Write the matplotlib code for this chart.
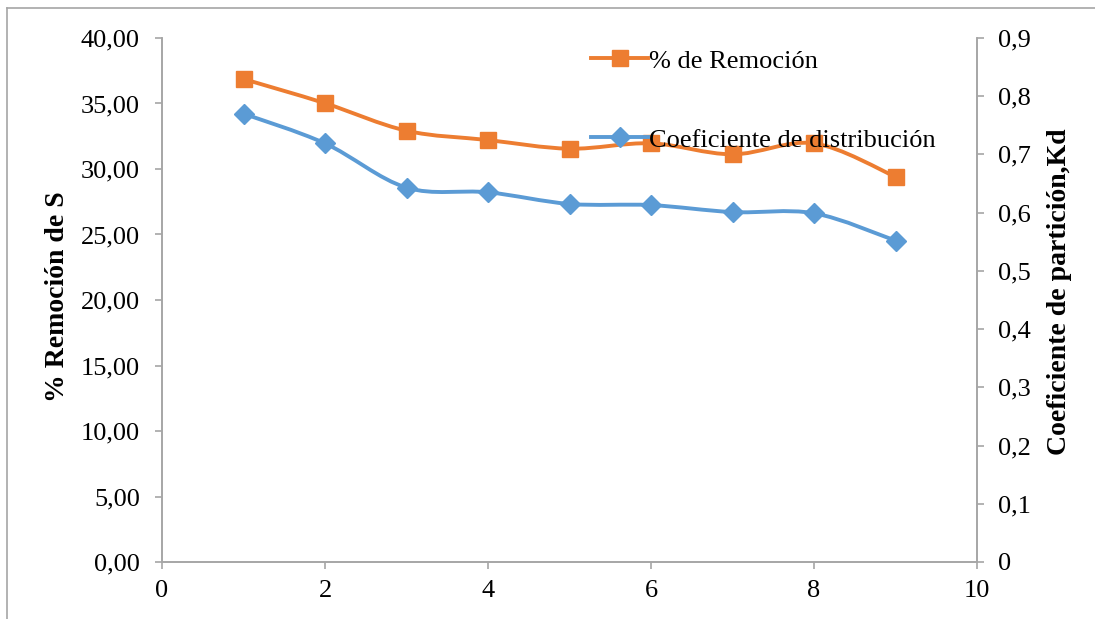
import matplotlib
matplotlib.use('Agg')
import matplotlib.pyplot as plt
from matplotlib.path import Path
from matplotlib.patches import PathPatch
from matplotlib.lines import Line2D
from matplotlib.ticker import FuncFormatter, MultipleLocator

plt.rcParams['font.family'] = ['Liberation Serif', 'DejaVu Serif']

ensayo = [1, 2, 3, 4, 5, 6, 7, 8, 9]
remocion = [36.87, 35.02, 32.92, 32.21, 31.55, 31.96, 31.12, 31.96, 29.41]
kd = [0.770, 0.719, 0.643, 0.635, 0.615, 0.613, 0.601, 0.599, 0.552]

naranja = '#ED7D31'
azul = '#5B9BD5'
gris = '#A6A6A6'


def curva_suave(xs, ys):
    # bezier por tramos al estilo de las lineas suavizadas de Excel
    pts = list(zip(xs, ys))
    n = len(pts)
    verts = [pts[0]]
    codes = [Path.MOVETO]
    for i in range(n - 1):
        p0 = pts[i - 1] if i > 0 else pts[i]
        p1 = pts[i]
        p2 = pts[i + 1]
        p3 = pts[i + 2] if i + 2 < n else pts[i + 1]
        c1 = (p1[0] + (p2[0] - p0[0]) / 6, p1[1] + (p2[1] - p0[1]) / 6)
        c2 = (p2[0] - (p3[0] - p1[0]) / 6, p2[1] - (p3[1] - p1[1]) / 6)
        verts += [c1, c2, p2]
        codes += [Path.CURVE4] * 3
    return Path(verts, codes)


fig = plt.figure(figsize=(10.95, 6.19), dpi=100)
ax = fig.add_axes([162 / 1095, 57 / 619, 815 / 1095, 524 / 619])
ax2 = ax.twinx()

ax.add_patch(PathPatch(curva_suave(ensayo, remocion), fill=False,
                       edgecolor=naranja, lw=2.8, zorder=3))
ax.plot(ensayo, remocion, ls='none', marker='s', ms=11.5, color=naranja, zorder=4)
ax2.add_patch(PathPatch(curva_suave(ensayo, kd), fill=False,
                        edgecolor=azul, lw=2.8, zorder=3))
ax2.plot(ensayo, kd, ls='none', marker='D', ms=10, color=azul, zorder=4)

ax.set_xlim(0, 10)
ax.set_ylim(0, 40)
ax2.set_ylim(0, 0.9)
ax.xaxis.set_major_locator(MultipleLocator(2))
ax.yaxis.set_major_locator(MultipleLocator(5))
ax2.yaxis.set_major_locator(MultipleLocator(0.1))
ax.yaxis.set_major_formatter(FuncFormatter(lambda v, p: f'{v:.2f}'.replace('.', ',')))
ax2.yaxis.set_major_formatter(FuncFormatter(
    lambda v, p: '0' if abs(v) < 1e-9 else f'{v:.1f}'.replace('.', ',')))

for a in (ax, ax2):
    for s in a.spines.values():
        s.set_color(gris)
        s.set_linewidth(1.2)
    a.spines['top'].set_visible(False)
    a.tick_params(colors=gris, labelcolor='black', labelsize=19,
                  length=5, width=1.2)
ax.tick_params(axis='y', pad=11)
ax.tick_params(axis='x', pad=8)
ax2.tick_params(axis='y', pad=10)

fig.text(58 / 1095, 1 - 297 / 619, '% Remoción de S', rotation=90,
         ha='center', va='center', fontsize=20, fontweight='bold')
fig.text(1060 / 1095, 1 - 292 / 619, 'Coeficiente de partición,Kd', rotation=90,
         ha='center', va='center', fontsize=20, fontweight='bold')

h1 = Line2D([], [], color=naranja, lw=2.8, marker='s', ms=11.5)
h2 = Line2D([], [], color=azul, lw=2.8, marker='D', ms=10)
fig.legend([h1, h2], ['% de Remoción', 'Coeficiente de distribución'],
           loc='upper left', bbox_to_anchor=(578 / 1095, 1 - 36 / 619),
           frameon=False, fontsize=19, labelspacing=2.1,
           handlelength=2.15, handletextpad=0.05, borderpad=0)

# marco exterior del grafico
fig.add_artist(Line2D([7 / 1095, 7 / 1095], [0, 1 - 8 / 619], color=gris, lw=1.2))
fig.add_artist(Line2D([7 / 1095, 1], [1 - 8 / 619, 1 - 8 / 619], color=gris, lw=1.2))

fig.savefig('out.png', dpi=100)
